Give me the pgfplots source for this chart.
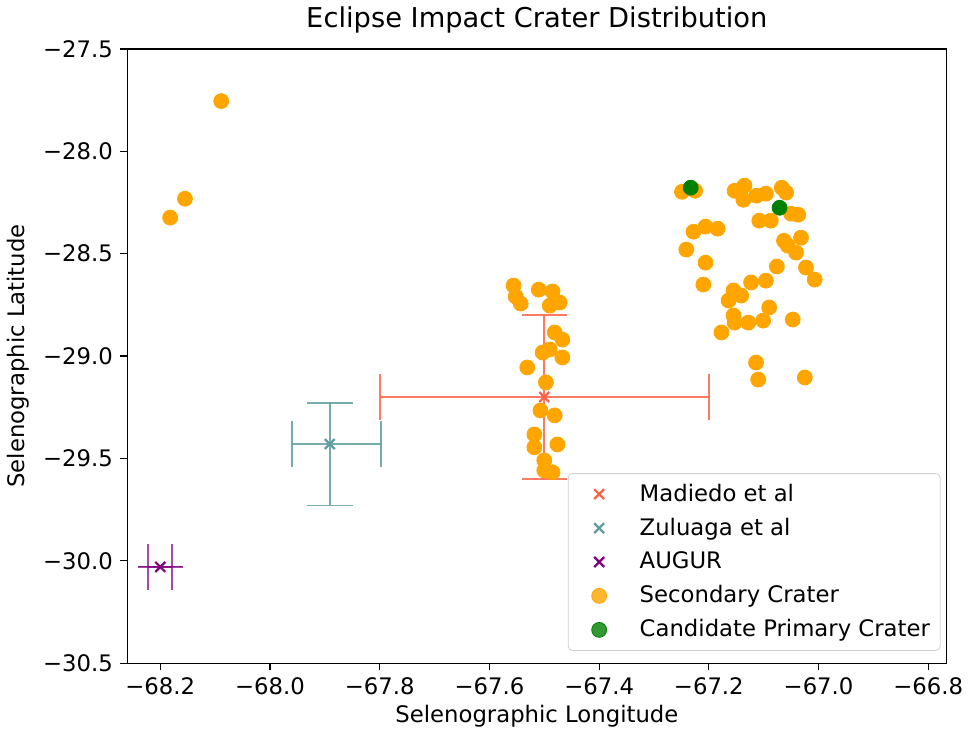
\documentclass[border=0pt]{standalone}
\usepackage{fontspec}
\setmainfont{DejaVu Sans}
\usepackage{pgfplots}
\pgfplotsset{compat=1.18}
\usepackage{pgfplotstable}

\definecolor{tomato}{RGB}{255,99,71}
\definecolor{cadet}{RGB}{95,158,160}
\definecolor{mplpurple}{RGB}{128,0,128}
\definecolor{mplorange}{RGB}{255,165,0}
\definecolor{mplgreen}{RGB}{0,128,0}

% secondary craters (lon, lat)
\pgfplotstableread{
lon lat
-68.089 -27.755
-68.155 -28.232
-68.182 -28.324
-67.556 -28.656
-67.543 -28.744
-67.510 -28.676
-67.485 -28.685
-67.472 -28.739
-67.490 -28.754
-67.552 -28.710
-67.481 -28.885
-67.467 -28.920
-67.503 -28.983
-67.490 -28.968
-67.467 -29.007
-67.531 -29.056
-67.497 -29.129
-67.507 -29.266
-67.481 -29.290
-67.518 -29.383
-67.518 -29.446
-67.476 -29.432
-67.500 -29.510
-67.500 -29.559
-67.485 -29.568
-67.249 -28.198
-67.225 -28.193
-67.153 -28.193
-67.135 -28.168
-67.137 -28.237
-67.113 -28.217
-67.096 -28.207
-67.067 -28.178
-67.059 -28.202
-67.050 -28.305
-67.037 -28.310
-67.108 -28.339
-67.087 -28.339
-67.228 -28.393
-67.206 -28.368
-67.184 -28.378
-67.241 -28.480
-67.206 -28.544
-67.210 -28.651
-67.063 -28.437
-67.032 -28.422
-67.056 -28.461
-67.041 -28.495
-67.076 -28.563
-67.023 -28.568
-67.007 -28.627
-67.123 -28.641
-67.096 -28.632
-67.155 -28.680
-67.141 -28.705
-67.164 -28.729
-67.090 -28.763
-67.155 -28.802
-67.153 -28.837
-67.128 -28.837
-67.101 -28.827
-67.047 -28.822
-67.177 -28.885
-67.114 -29.032
-67.110 -29.115
-67.025 -29.105
}\secondary

\pgfplotsset{
  legmark/.style={legend image code/.code={
      \path (0cm,0cm) (1.0cm,0cm);
      \draw[##1] plot coordinates {(0.4cm,0cm)};}},
  errx/.style={forget plot, draw=none, mark=none,
      error bars/.cd, x dir=both, x explicit, error mark=|,
      error mark options={mark size=11pt, line width=0.9pt, #1},
      error bar style={line width=0.9pt, #1}},
  erry/.style={forget plot, draw=none, mark=none,
      error bars/.cd, y dir=both, y explicit, error mark=|,
      error mark options={mark size=11pt, line width=0.9pt, #1},
      error bar style={line width=0.9pt, #1}},
}

\begin{document}
\begin{tikzpicture}
\begin{axis}[
    scale only axis,
    width=396pt, height=297pt,
    xmin=-68.26, xmax=-66.767,
    ymin=-30.5, ymax=-27.5,
    xtick={-68.2,-68.0,-67.8,-67.6,-67.4,-67.2,-67.0,-66.8},
    xticklabels={−68.2,−68.0,−67.8,−67.6,−67.4,−67.2,−67.0,−66.8},
    ytick={-30.5,-30.0,-29.5,-29.0,-28.5,-28.0,-27.5},
    yticklabels={−30.5,−30.0,−29.5,−29.0,−28.5,−28.0,−27.5},
    tick align=outside,
    major tick length=3.5pt,
    tick style={black, line width=0.6pt},
    axis line style={line width=0.6pt},
    xtick pos=bottom, ytick pos=left,
    ticklabel style={font=\fontsize{11}{13}\selectfont},
    title={Eclipse Impact Crater Distribution},
    title style={font=\fontsize{13.2}{15}\selectfont, yshift=-2pt},
    xlabel={Selenographic Longitude},
    ylabel={Selenographic Latitude},
    label style={font=\fontsize{11}{13}\selectfont},
    xlabel style={yshift=2pt},
    legend cell align=left,
    legend style={at={(rel axis cs:0.993,0.02)}, anchor=south east,
        draw=black!18, rounded corners=2pt, fill=white, fill opacity=0.8, text opacity=1,
        font=\fontsize{11}{13}\selectfont, row sep=2.6pt, inner xsep=3pt, inner ysep=3pt},
]
% centre markers
\addplot[only marks, mark=x, mark size=3.4pt, color=tomato, line width=1.1pt, legmark]
    coordinates {(-67.5,-29.2)};
\addlegendentry{Madiedo et al}
\addplot[only marks, mark=x, mark size=3.4pt, color=cadet, line width=1.1pt, legmark]
    coordinates {(-67.891,-29.430)};
\addlegendentry{Zuluaga et al}
\addplot[only marks, mark=x, mark size=3.4pt, color=mplpurple, line width=1.1pt, legmark]
    coordinates {(-68.2,-30.03)};
\addlegendentry{AUGUR}
% craters
\addplot[only marks, mark=*, mark size=3.6pt, color=mplorange, mark options={draw=mplorange, fill=mplorange}, legmark]
    table[x=lon, y=lat] {\secondary};
\addlegendentry{Secondary Crater}
\addplot[only marks, mark=*, mark size=3.6pt, color=mplgreen, mark options={draw=mplgreen, fill=mplgreen}, legmark]
    coordinates {(-67.233,-28.178) (-67.071,-28.276)};
\addlegendentry{Candidate Primary Crater}
% error bars
\addplot[errx={tomato, opacity=0.85}] coordinates {(-67.5,-29.2) +- (0.3,0)};
\addplot[erry={tomato, opacity=0.85}] coordinates {(-67.5,-29.2) +- (0,0.4)};
\addplot[errx={cadet, opacity=0.85}] coordinates {(-67.891,-29.430) += (0.093,0) -= (0.069,0)};
\addplot[erry={cadet, opacity=0.85}] coordinates {(-67.891,-29.430) += (0,0.2) -= (0,0.3)};
\addplot[errx={mplpurple, opacity=0.7}] coordinates {(-68.2,-30.03) +- (0.022,0)};
\addplot[erry={mplpurple, opacity=0.7}] coordinates {(-68.2,-30.03) +- (0,0.002)};
\end{axis}
\end{tikzpicture}
\end{document}
